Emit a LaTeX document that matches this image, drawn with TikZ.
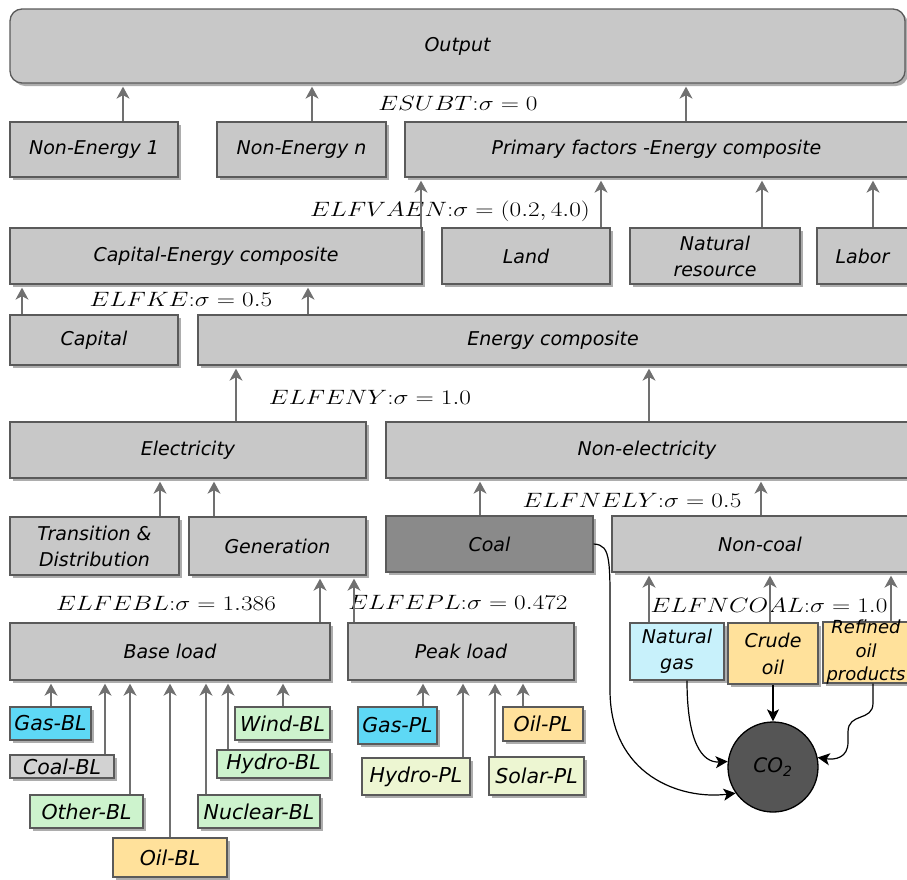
\documentclass[tikz,border=0pt]{standalone}
\usepackage{fontspec}
\newfontfamily\cfont{DejaVu Sans}
\usetikzlibrary{shadows,arrows.meta,calc}
\definecolor{boxc}{HTML}{C8C8C8}
\definecolor{bordc}{HTML}{5A5A5A}
\definecolor{arrc}{HTML}{707070}
\definecolor{coalc}{HTML}{8A8A8A}
\definecolor{co2c}{HTML}{555555}
\definecolor{cyanc}{HTML}{5ED8F5}
\definecolor{lcyanc}{HTML}{C8F1FB}
\definecolor{greenc}{HTML}{CDF3CD}
\definecolor{orangec}{HTML}{FFE19B}
\definecolor{ygreenc}{HTML}{EDF6D2}
\definecolor{lgrayc}{HTML}{D2D2D2}
\newcommand\lab[1]{\scalebox{1.22}[1]{$#1$}}
\begin{document}
\begin{tikzpicture}[x=1pt,y=-1pt,
  sz/.style 2 args={minimum width=#1pt,minimum height=#2pt},
  box/.style={draw=bordc,line width=1.3pt,fill=boxc,inner sep=0pt,align=center,
    drop shadow={shadow xshift=3pt,shadow yshift=-3pt,fill=black!40,opacity=0.8},
    font=\cfont\itshape\fontsize{19}{23}\selectfont},
  leaf/.style={box,font=\cfont\itshape\fontsize{20.5}{23}\selectfont},
  garrow/.style={draw=arrc,line width=1.3pt,-{Stealth[length=12pt,width=13pt,inset=3.5pt]},shorten >=3pt},
  barrow/.style={draw=black,line width=1.2pt,-{Stealth[length=12pt,width=12pt,inset=3pt]}},
  lbl/.style={inner sep=0pt,font=\fontsize{20.5}{22}\selectfont}]
\useasboundingbox (0,0) rectangle (907,879);
% row 1
\node[box,sz={895}{74},rounded corners=12pt] (out) at (457.5,46) {Output};
% row 2
\node[box,sz={168}{55}] (ne1) at (94,149.5) {Non-Energy 1};
\node[box,sz={169}{55}] (nen) at (301.5,149.5) {Non-Energy n};
\node[box,sz={503}{55}] (pf) at (656.5,149.5) {Primary factors -Energy composite};
% row 3
\node[box,sz={412}{56}] (ce) at (216,256) {Capital-Energy composite};
\node[box,sz={168}{56}] (land) at (526,256) {Land};
\node[box,sz={170}{56},font=\cfont\itshape\fontsize{19}{26}\selectfont] (nr) at (715,256) {Natural\\resource};
\node[box,sz={91}{56}] (labor) at (862.5,256) {Labor};
% row 4
\node[box,sz={168}{50}] (cap) at (94,340) {Capital};
\node[box,sz={710}{50}] (ec) at (553,340) {Energy composite};
% row 5
\node[box,sz={356}{56}] (elec) at (188,450) {Electricity};
\node[box,sz={522}{56}] (nonel) at (647,450) {Non-electricity};
% row 6
\node[box,sz={169}{58},font=\cfont\itshape\fontsize{19}{26}\selectfont] (td) at (94.5,546) {Transition \&\\Distribution};
\node[box,sz={177}{58}] (gen) at (277.5,546) {Generation};
\node[box,sz={207}{56},fill=coalc] (coal) at (489.5,544) {Coal};
\node[box,sz={296}{56}] (noncoal) at (760,544) {Non-coal};
% row 7
\node[box,sz={320}{57}] (base) at (170,651.5) {Base load};
\node[box,sz={226}{57}] (peak) at (461,651.5) {Peak load};
\node[leaf,sz={94}{57},fill=lcyanc,font=\cfont\itshape\fontsize{19}{26}\selectfont] (ng) at (677,651.5) {Natural\\gas};
\node[leaf,sz={90}{61},fill=orangec,font=\cfont\itshape\fontsize{19}{27}\selectfont] (crude) at (773,653.5) {Crude\\oil};
\node[leaf,sz={92}{61},fill=orangec,
  label={[font=\cfont\itshape\fontsize{18}{23.5}\selectfont,align=center,xshift=-3pt]center:Refined\\oil\\products}] (refined) at (869,652.5) {};
% leaves base load
\node[leaf,sz={81}{33},fill=cyanc] (gasbl) at (50.5,723.5) {Gas-BL};
\node[leaf,sz={104}{23},fill=lgrayc] (coalbl) at (62,766.5) {Coal-BL};
\node[leaf,sz={113}{33},fill=greenc] (otherbl) at (86.5,811.5) {Other-BL};
\node[leaf,sz={114}{39},fill=orangec] (oilbl) at (170,857.5) {Oil-BL};
\node[leaf,sz={122}{33},fill=greenc] (nucbl) at (259,811.5) {Nuclear-BL};
\node[leaf,sz={113}{28},fill=greenc] (hydrobl) at (273.5,764) {Hydro-BL};
\node[leaf,sz={95}{33},fill=greenc] (windbl) at (282.5,723.5) {Wind-BL};
% leaves peak load
\node[leaf,sz={79}{37},fill=cyanc] (gaspl) at (397.5,725.5) {Gas-PL};
\node[leaf,sz={108}{37},fill=ygreenc] (hydropl) at (416,776.5) {Hydro-PL};
\node[leaf,sz={80}{34},fill=orangec] (oilpl) at (543,724) {Oil-PL};
\node[leaf,sz={95}{38},fill=ygreenc] (solarpl) at (536.5,776) {Solar-PL};
% CO2
\node[circle,draw=black,line width=1.3pt,fill=co2c,minimum size=90pt,inner sep=0pt,
  font=\cfont\itshape\fontsize{20}{22}\selectfont] (co2) at (773,767) {CO\textsubscript{2}};
% labels
\node[lbl] (l1) at (458,103) {\lab{ESUBT{:}\sigma = 0}};
\node[lbl] (l2) at (450,211) {\lab{ELFVAEN{:}\sigma = (0.2, 4.0)}};
\node[lbl] (l3) at (181,299) {\lab{ELFKE{:}\sigma = 0.5}};
\node[lbl] (l4) at (370,397) {\lab{ELFENY{:}\sigma = 1.0}};
\node[lbl] (l5) at (632,500) {\lab{ELFNELY{:}\sigma = 0.5}};
\node[lbl] (l6) at (166,603) {\lab{ELFEBL{:}\sigma = 1.386}};
\node[lbl] (l7) at (458,602) {\lab{ELFEPL{:}\sigma = 0.472}};
\node[lbl] (l8) at (769,605) {\lab{ELFNCOAL{:}\sigma = 1.0}};
% gray arrows
\draw[garrow] (ne1.north -| 123,0) -- (out.south -| 123,0);
\draw[garrow] (nen.north -| 312,0) -- (out.south -| 312,0);
\draw[garrow] (pf.north -| 686,0) -- (out.south -| 686,0);
\draw[garrow] (ce.north -| 421,0) -- (pf.south -| 421,0);
\draw[garrow] (land.north -| 601,0) -- (pf.south -| 601,0);
\draw[garrow] (nr.north -| 762,0) -- (pf.south -| 762,0);
\draw[garrow] (labor.north -| 873,0) -- (pf.south -| 873,0);
\draw[garrow] (cap.north -| 22,0) -- (ce.south -| 22,0);
\draw[garrow] (ec.north -| 308,0) -- (ce.south -| 308,0);
\draw[garrow] (elec.north -| 236,0) -- (ec.south -| 236,0);
\draw[garrow] (nonel.north -| 649,0) -- (ec.south -| 649,0);
\draw[garrow] (td.north -| 160,0) -- (elec.south -| 160,0);
\draw[garrow] (gen.north -| 214,0) -- (elec.south -| 214,0);
\draw[garrow] (coal.north -| 480,0) -- (nonel.south -| 480,0);
\draw[garrow] (noncoal.north -| 761,0) -- (nonel.south -| 761,0);
\draw[garrow] (base.north -| 320,0) -- (gen.south -| 320,0);
\draw[garrow] (peak.north -| 354,0) -- (gen.south -| 354,0);
\draw[garrow] (ng.north -| 649,0) -- (noncoal.south -| 649,0);
\draw[garrow] (crude.north -| 770,0) -- (noncoal.south -| 770,0);
\draw[garrow] (refined.north -| 891,0) -- (noncoal.south -| 891,0);
\draw[garrow] (gasbl.north -| 51,0) -- (base.south -| 51,0);
\draw[garrow] (coalbl.north -| 105,0) -- (base.south -| 105,0);
\draw[garrow] (otherbl.north -| 130,0) -- (base.south -| 130,0);
\draw[garrow] (oilbl.north -| 170,0) -- (base.south -| 170,0);
\draw[garrow] (nucbl.north -| 206,0) -- (base.south -| 206,0);
\draw[garrow] (hydrobl.north -| 228,0) -- (base.south -| 228,0);
\draw[garrow] (windbl.north -| 283,0) -- (base.south -| 283,0);
\draw[garrow] (gaspl.north -| 423,0) -- (peak.south -| 423,0);
\draw[garrow] (hydropl.north -| 463,0) -- (peak.south -| 463,0);
\draw[garrow] (solarpl.north -| 495,0) -- (peak.south -| 495,0);
\draw[garrow] (oilpl.north -| 523,0) -- (peak.south -| 523,0);
% black arrows to CO2
\draw[barrow] (crude.south) -- (co2.north);
\draw[barrow] (ng.south -| 687,0) .. controls (687,742) and (702,763) .. (co2.173);
\draw[barrow] (refined.south -| 873,0) -- (873,703) .. controls (873,722) and (848,712) .. (848,732) -- (848,742) .. controls (848,758) and (835,760) .. (co2.12);
\draw[barrow] (coal.east) .. controls (612,545) and (610,560) .. (610,640) -- (610,690) .. controls (610,775) and (680,800) .. (co2.215);
\end{tikzpicture}
\end{document}
